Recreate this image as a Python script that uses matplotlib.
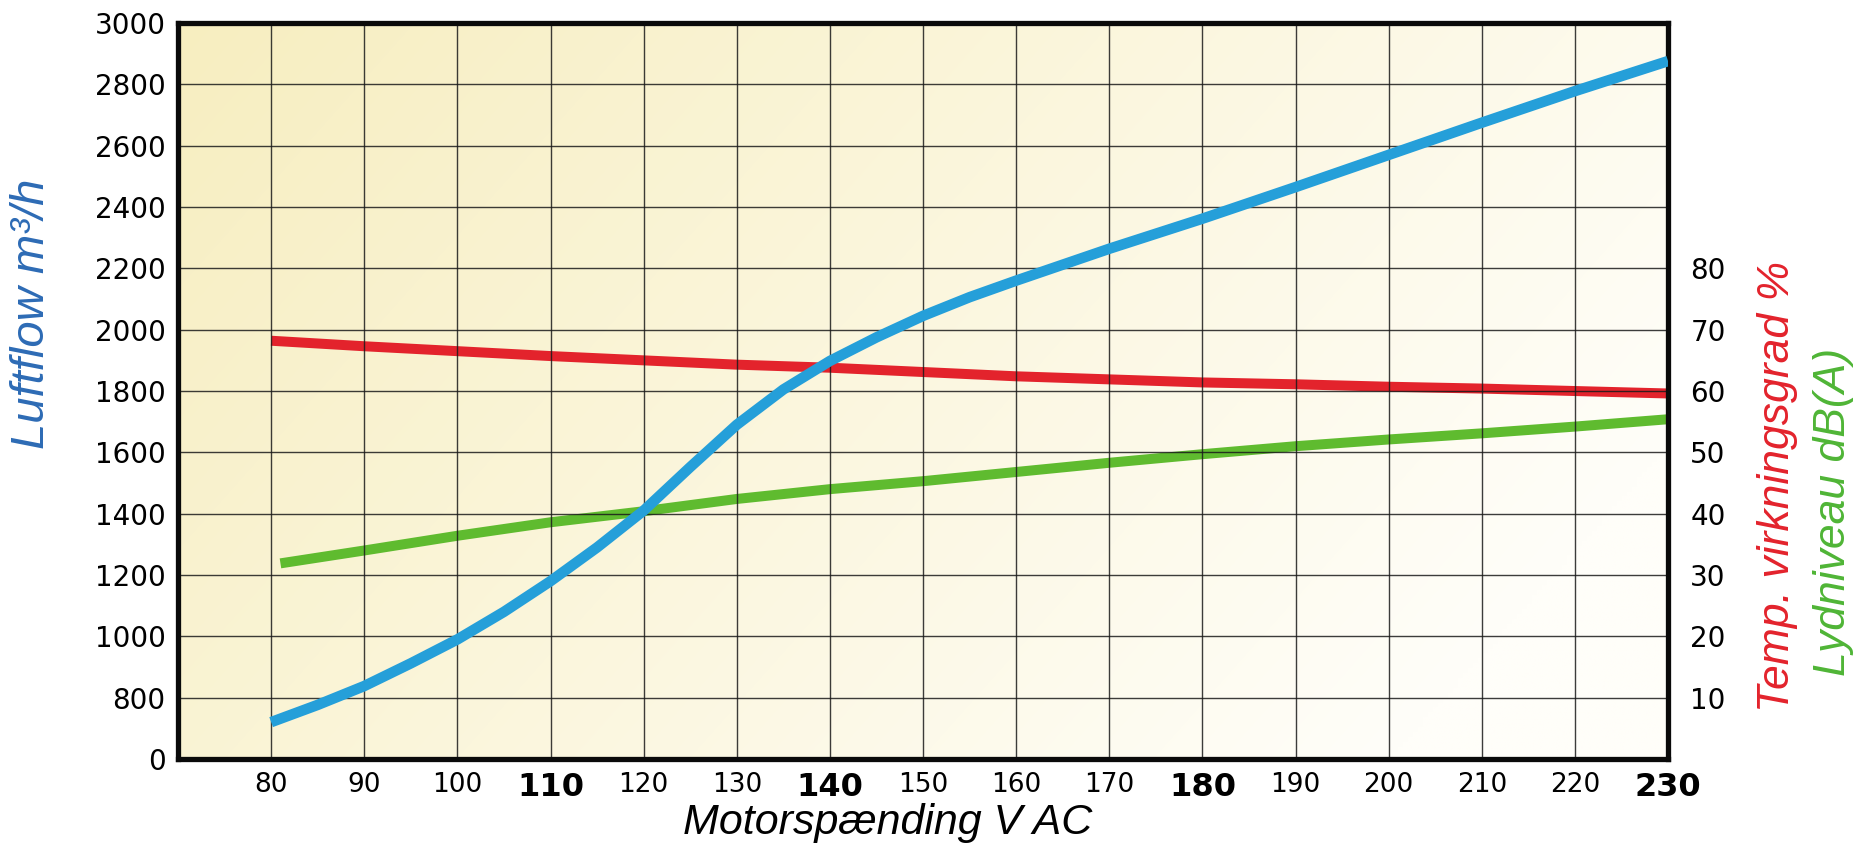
import numpy as np
import matplotlib
matplotlib.use('Agg')
import matplotlib.pyplot as plt

# motor voltage (V AC)
volt_air = [80, 85, 90, 95, 100, 105, 110, 115, 120, 125, 130, 135, 140, 145,
            150, 155, 160, 165, 170, 180, 190, 200, 210, 220, 230]
airflow = [481, 706, 838, 912, 990, 1080, 1180, 1290, 1410, 1552, 1690, 1805,
           1898, 1975, 2045, 2106, 2160, 2212, 2264, 2362, 2465, 2570, 2675,
           2778, 2876]

volt = [80, 90, 100, 110, 120, 130, 140, 150, 160, 170, 180, 190, 200, 210, 220, 230]
efficiency = [68.2, 67.3, 66.5, 65.7, 65.0, 64.3, 63.8, 63.1, 62.4, 61.9, 61.4,
              61.1, 60.7, 60.4, 60.0, 59.6]

volt_snd = [81, 90, 100, 110, 120, 130, 140, 150, 160, 170, 180, 190, 200, 210, 220, 230]
sound = [31.9, 34.0, 36.4, 38.6, 40.4, 42.4, 44.0, 45.3, 46.8, 48.3, 49.7, 51.0,
         52.1, 53.1, 54.2, 55.4]

xticks = list(range(80, 231, 10))
bold_ticks = [110, 140, 180, 230]
left_ticks = [0, 800, 1000, 1200, 1400, 1600, 1800, 2000, 2200, 2400, 2600, 2800, 3000]
right_ticks = [10, 20, 30, 40, 50, 60, 70, 80]

BLUE = '#259fd9'
RED = '#e3232c'
GREEN = '#5fbb2f'
label_font = ['Liberation Sans Narrow', 'Liberation Sans', 'DejaVu Sans']


# left axis: 0-800 squeezed into one grid step, then 200 per step
def fwd(v):
    v = np.asarray(v, dtype=float)
    return np.where(v < 800, v / 800.0, 1 + (v - 800) / 200.0)


def inv(p):
    p = np.asarray(p, dtype=float)
    return np.where(p < 1, p * 800.0, 800 + (p - 1) * 200.0)


fig = plt.figure(figsize=(18.7, 8.44), dpi=100)
ax = fig.add_axes([0.0952, 0.1007, 0.7968, 0.872])
ax2 = ax.twinx()
ax.set_zorder(2)
ax2.set_zorder(1)
ax.patch.set_visible(False)

# background gradient (yellow top-left -> white bottom-right)
gx, gy = np.meshgrid(np.linspace(0, 1, 300), np.linspace(0, 1, 150))
t = np.clip(0.8 * gx + 0.35 * gy, 0, 1)
c0 = np.array([247, 238, 192]) / 255
c1 = np.array([255, 254, 249]) / 255
img = c0[None, None, :] * (1 - t[..., None]) + c1[None, None, :] * t[..., None]
ax2.imshow(img, extent=[0, 1, 0, 1], transform=ax2.transAxes, aspect='auto',
           origin='upper', zorder=0, interpolation='bilinear')

ax2.plot(volt, efficiency, color=RED, lw=7.2, solid_capstyle='butt', zorder=3)
ax2.plot(volt_snd, sound, color=GREEN, lw=7.2, solid_capstyle='butt', zorder=3)
ax2.set_ylim(0, 120)
ax2.set_xlim(70, 230)
ax2.set_yticks(right_ticks)
ax2.set_yticklabels([str(v) for v in right_ticks], fontsize=20, family='DejaVu Sans')
ax2.tick_params(axis='y', length=0, pad=16)
for s in ax2.spines.values():
    s.set_visible(False)

ax.plot(volt_air, airflow, color=BLUE, lw=7.6, solid_capstyle='butt',
        solid_joinstyle='round', zorder=5)
ax.set_yscale('function', functions=(fwd, inv))
ax.set_ylim(0, 3000)
ax.set_xlim(70, 230)
ax.set_yticks(left_ticks)
ax.set_yticklabels([str(v) for v in left_ticks], fontsize=20, family='DejaVu Sans')
ax.minorticks_off()
ax.set_xticks(xticks)
ax.set_xticklabels([str(v) for v in xticks])
for lab, v in zip(ax.get_xticklabels(), xticks):
    if v in bold_ticks:
        lab.set_fontweight('bold')
        lab.set_fontsize(23)
    else:
        lab.set_fontsize(19)
    lab.set_family('DejaVu Sans')
    lab.set_verticalalignment('top')
ax.tick_params(axis='both', length=0)
ax.tick_params(axis='y', pad=9)
ax.tick_params(axis='x', pad=9)
ax.grid(True, color='#1a1a1a', lw=1.0, alpha=0.85, zorder=1)
for s in ax.spines.values():
    s.set_linewidth(3.8)
    s.set_color('#0a0a0a')

fig.text(32 / 1870, 1 - 314 / 844, 'Luftflow m³/h', rotation=90, ha='center',
         va='center', color='#2d6bb5', fontsize=34, style='italic', family=label_font)
fig.text(1777 / 1870, 1 - 486 / 844, 'Temp. virkningsgrad %', rotation=90,
         ha='center', va='center', color=RED, fontsize=32, style='italic',
         family=label_font)
fig.text(1833 / 1870, 1 - 512 / 844, 'Lydniveau dB(A)', rotation=90, ha='center',
         va='center', color='#4fb536', fontsize=32, style='italic', family=label_font)
fig.text(888 / 1870, 1 - 834 / 844, 'Motorspænding V AC', ha='center',
         va='baseline', color='black', fontsize=31, style='italic', family=label_font)

fig.savefig('out.png', dpi=100, facecolor='white')
